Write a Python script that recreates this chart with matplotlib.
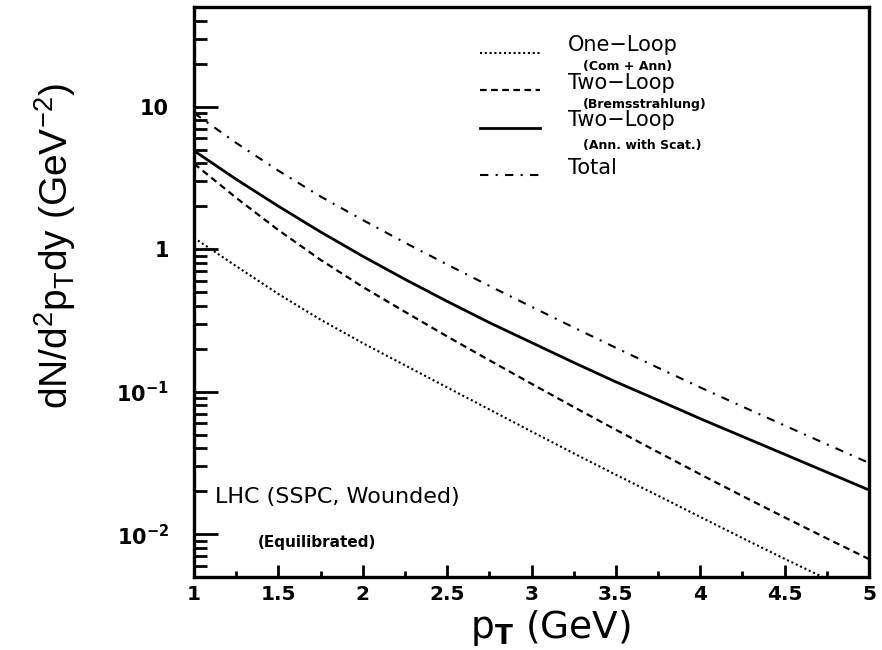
import matplotlib
matplotlib.use("Agg")
import matplotlib.pyplot as plt
from matplotlib.lines import Line2D
from matplotlib.ticker import FixedLocator, NullFormatter

plt.rcParams['font.family'] = ['DejaVu Sans']
plt.rcParams['mathtext.fontset'] = 'custom'
plt.rcParams['mathtext.rm'] = 'Liberation Sans'
plt.rcParams['mathtext.it'] = 'Liberation Sans'
plt.rcParams['mathtext.bf'] = 'DejaVu Sans:bold'

# photon transverse momentum (GeV)
pt = [1.0, 1.25, 1.5, 1.75, 2.0, 2.25, 2.5, 2.75, 3.0,
      3.25, 3.5, 3.75, 4.0, 4.25, 4.5, 4.75, 5.0]

# dN/d^2p_T dy (GeV^-2) for each contribution
one_loop = [1.20, 0.759, 0.484, 0.320, 0.219, 0.153, 0.107, 0.0750, 0.0525,
            0.0369, 0.0261, 0.0186, 0.0132, 0.00938, 0.00671, 0.00484, 0.00351]
two_loop_brems = [3.98, 2.29, 1.36, 0.841, 0.543, 0.363, 0.244, 0.166, 0.1135,
                  0.0780, 0.0540, 0.0376, 0.0263, 0.0185, 0.0131, 0.00933, 0.00668]
two_loop_ann = [4.90, 3.09, 2.00, 1.32, 0.891, 0.614, 0.430, 0.305, 0.221,
                0.160, 0.117, 0.0871, 0.0646, 0.0484, 0.0363, 0.0272, 0.0204]
total = [9.02, 5.56, 3.55, 2.34, 1.60, 1.11, 0.780, 0.552, 0.394,
         0.282, 0.203, 0.147, 0.107, 0.0785, 0.0578, 0.0427, 0.0316]

y_ticks = [1e-2, 1e-1, 1, 10]
y_ticklabels = [r'$\mathbf{10^{-2}}$', r'$\mathbf{10^{-1}}$', '1', '10']
x_ticks = [1, 1.5, 2, 2.5, 3, 3.5, 4, 4.5, 5]
x_ticklabels = ['1', '1.5', '2', '2.5', '3', '3.5', '4', '4.5', '5']

styles = {
    'dot': dict(color='black', lw=1.5, linestyle=(0, (1, 1.3))),
    'dash': dict(color='black', lw=1.6, linestyle=(0, (3, 2))),
    'solid': dict(color='black', lw=2.0, linestyle='-'),
    'dashdot': dict(color='black', lw=1.5, linestyle=(0, (4, 3.5, 1, 3.5))),
}

fig = plt.figure(figsize=(8.82, 6.5), dpi=100)
ax = fig.add_axes([194 / 882, 1 - 577 / 650, 675 / 882, 570 / 650])

ax.plot(pt, one_loop, **styles['dot'])
ax.plot(pt, two_loop_brems, **styles['dash'])
ax.plot(pt, two_loop_ann, **styles['solid'])
ax.plot(pt, total, **styles['dashdot'])

ax.set_yscale('log')
ax.set_xlim(1, 5)
ax.set_ylim(0.005, 50)

for s in ax.spines.values():
    s.set_linewidth(2.4)

ax.xaxis.set_major_locator(FixedLocator(x_ticks))
ax.xaxis.set_minor_locator(FixedLocator([1.25, 1.75, 2.25, 2.75, 3.25, 3.75, 4.25, 4.75]))
ax.set_xticklabels(x_ticklabels, fontsize=14.5, fontweight='bold')
ax.yaxis.set_major_locator(FixedLocator(y_ticks))
minor = []
for dec in [0.001, 0.01, 0.1, 1, 10]:
    for k in range(2, 10):
        minor.append(dec * k)
ax.yaxis.set_minor_locator(FixedLocator(minor))
ax.yaxis.set_minor_formatter(NullFormatter())
ax.set_yticklabels(y_ticklabels, fontsize=15, fontweight='bold')

ax.tick_params(axis='x', which='major', direction='in', length=9, width=2, pad=6)
ax.tick_params(axis='x', which='minor', direction='in', length=4.5, width=2)
ax.tick_params(axis='y', which='major', direction='in', length=17, width=2, pad=18)
ax.tick_params(axis='y', which='minor', direction='in', length=9, width=2)
ax.tick_params(top=False, right=False, which='both')

fig.text(550 / 882, 1 - 628 / 650, r'p$_\mathbf{T}$ (GeV)', fontsize=27,
         ha='center', va='center')
fig.text(55 / 882, 1 - 246 / 650, r'dN/d$^2$p$_\mathrm{T}$dy (GeV$^{-2}$)',
         fontsize=28, rotation=90, ha='center', va='center',
         family=['Liberation Sans', 'DejaVu Sans'])

# legend samples and labels
legend_rows = [
    ('dot', 0.919, 'One\u2212Loop', 0.934, '(Com + Ann)', 0.896),
    ('dash', 0.854, 'Two\u2212Loop', 0.866, '(Bremsstrahlung)', 0.829),
    ('solid', 0.788, 'Two\u2212Loop', 0.801, '(Ann. with Scat.)', 0.757),
    ('dashdot', 0.705, 'Total', 0.718, None, None),
]
for key, ly, main, my, sub, sy in legend_rows:
    ax.add_line(Line2D([0.424, 0.513], [ly, ly], transform=ax.transAxes, **styles[key]))
    ax.text(0.554, my, main, transform=ax.transAxes, fontsize=15, va='center', ha='left')
    if sub:
        ax.text(0.576, sy, sub, transform=ax.transAxes, fontsize=9,
                fontweight='bold', va='center', ha='left')

ax.text(0.031, 0.140, 'LHC (SSPC, Wounded)', transform=ax.transAxes, fontsize=16,
        va='center', ha='left')
ax.text(0.095, 0.060, '(Equilibrated)', transform=ax.transAxes, fontsize=11,
        fontweight='bold', va='center', ha='left')

fig.savefig('out.png', dpi=100)
